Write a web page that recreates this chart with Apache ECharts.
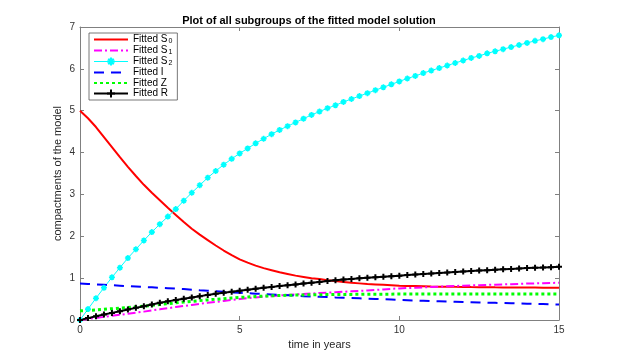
<!DOCTYPE html>
<html>
<head>
<meta charset="utf-8">
<script src="https://cdn.jsdelivr.net/npm/echarts@6/dist/echarts.min.js"></script>
<style>
  body { margin: 0; background: #fff; }
  #main { width: 618px; height: 360px; }
</style>
</head>
<body>
<div id="main"></div>
<script type="text/javascript">
// time points (years)
var years = [0,0.25,0.5,0.75,1,1.25,1.5,1.75,2,2.25,2.5,2.75,3,3.25,3.5,3.75,4,4.25,4.5,4.75,
  5,5.25,5.5,5.75,6,6.25,6.5,6.75,7,7.25,7.5,7.75,8,8.25,8.5,8.75,9,9.25,9.5,9.75,
  10,10.25,10.5,10.75,11,11.25,11.5,11.75,12,12.25,12.5,12.75,13,13.25,13.5,13.75,14,14.25,14.5,14.75,15];

// fitted S0
var s0 = [5.00,4.82,4.61,4.37,4.13,3.89,3.66,3.44,3.23,3.04,2.86,2.68,2.51,2.34,2.18,2.04,1.91,1.78,1.66,1.55,
  1.45,1.37,1.30,1.24,1.19,1.14,1.10,1.06,1.03,1.00,0.98,0.95,0.93,0.91,0.89,0.875,0.86,0.85,0.84,0.83,
  0.82,0.815,0.81,0.805,0.80,0.797,0.795,0.792,0.79,0.787,0.785,0.782,0.78,0.779,0.777,0.776,0.775,0.774,0.772,0.771,0.77];
// fitted S1
var s1 = [0,0.025,0.05,0.075,0.10,0.125,0.15,0.175,0.20,0.23,0.255,0.28,0.31,0.335,0.36,0.385,0.41,0.43,0.455,0.48,
  0.50,0.52,0.54,0.555,0.57,0.585,0.60,0.61,0.62,0.633,0.645,0.655,0.665,0.675,0.685,0.695,0.705,0.718,0.73,0.745,
  0.755,0.763,0.77,0.78,0.79,0.797,0.805,0.812,0.82,0.826,0.832,0.838,0.845,0.851,0.857,0.863,0.87,0.875,0.88,0.885,0.89];
// fitted S2
var s2 = [0,0.26,0.52,0.77,1.02,1.25,1.48,1.69,1.90,2.10,2.29,2.47,2.65,2.85,3.04,3.22,3.40,3.56,3.71,3.85,
  3.98,4.10,4.22,4.33,4.44,4.54,4.63,4.72,4.81,4.90,4.98,5.06,5.13,5.21,5.28,5.35,5.42,5.49,5.56,5.63,
  5.70,5.77,5.83,5.90,5.96,6.02,6.08,6.14,6.20,6.26,6.31,6.37,6.42,6.47,6.52,6.57,6.62,6.67,6.71,6.76,6.80];
// fitted I
var infI = [0.87,0.86,0.85,0.84,0.83,0.82,0.81,0.80,0.79,0.78,0.77,0.76,0.75,0.74,0.725,0.71,0.70,0.69,0.675,0.66,
  0.65,0.64,0.63,0.62,0.61,0.60,0.59,0.58,0.57,0.563,0.555,0.548,0.54,0.533,0.525,0.518,0.51,0.503,0.495,0.488,
  0.48,0.473,0.465,0.458,0.45,0.445,0.44,0.435,0.43,0.425,0.42,0.415,0.41,0.405,0.40,0.395,0.39,0.385,0.38,0.375,0.37];
// fitted Z
var zZ = [0.22,0.23,0.24,0.255,0.27,0.285,0.30,0.315,0.33,0.35,0.37,0.39,0.41,0.43,0.445,0.463,0.48,0.495,0.51,0.525,
  0.54,0.55,0.56,0.57,0.58,0.585,0.59,0.595,0.60,0.603,0.605,0.608,0.61,0.611,0.612,0.614,0.615,0.616,0.617,0.618,
  0.62,0.62,0.62,0.62,0.62,0.62,0.62,0.62,0.62,0.62,0.62,0.62,0.62,0.62,0.62,0.62,0.62,0.62,0.62,0.62,0.62];
// fitted R
var rR = [0,0.045,0.09,0.13,0.17,0.21,0.25,0.29,0.33,0.37,0.41,0.445,0.48,0.51,0.54,0.57,0.60,0.625,0.65,0.675,
  0.70,0.72,0.745,0.77,0.79,0.81,0.83,0.85,0.87,0.89,0.91,0.93,0.95,0.965,0.98,0.995,1.01,1.023,1.035,1.048,
  1.06,1.073,1.085,1.098,1.11,1.123,1.135,1.148,1.16,1.17,1.18,1.19,1.20,1.21,1.22,1.23,1.24,1.248,1.255,1.263,1.27];

var seriesNames = ['Fitted S0','Fitted S1','Fitted S2','Fitted I','Fitted Z','Fitted R'];
var withMarker = [false, false, true, false, false, true];
var xTicks = [0, 15, 5];   // min, max, step
var yTicks = [0, 7, 1];

function pairs(vals){
    var out = [];
    for (var i = 0; i < years.length; i++) out.push([years[i], vals[i]]);
    return out;
}

var font = 'Liberation Sans, Arial, Helvetica, sans-serif';
var asterisk = 'path://M5,0L5,10M0,5L10,5M1.6,1.6L8.4,8.4M8.4,1.6L1.6,8.4';
var plus = 'path://M5,0L5,10M0,5L10,5';

var myChart = echarts.init(document.getElementById('main'));

function axisBase(pos, showLabel, ticks){
    return {
        type: 'value', position: pos,
        min: ticks[0], max: ticks[1], interval: ticks[2],
        axisLine: { show: true, onZero: false, lineStyle: { color: '#808080', width: 1 } },
        axisTick: { show: true, inside: true, length: 4, lineStyle: { color: '#808080' } },
        axisLabel: { show: showLabel, color: '#333', fontSize: 10, fontFamily: font, margin: 5 },
        splitLine: { show: false }
    };
}

var xBottom = axisBase('bottom', true, xTicks);
xBottom.name = 'time in years';
xBottom.nameLocation = 'middle';
xBottom.nameGap = 19;
xBottom.nameMoveOverlap = false;
xBottom.nameTextStyle = { color: '#262626', fontSize: 11, fontFamily: font };
var yLeft = axisBase('left', true, yTicks);
yLeft.name = 'compactments of the model';
yLeft.nameLocation = 'middle';
yLeft.nameGap = 17;
yLeft.nameMoveOverlap = false;
yLeft.nameTextStyle = { color: '#262626', fontSize: 11, fontFamily: font };

// legend entries: hide the default marker for the plain lines, thin line for S2
var legendData = seriesNames.map(function(n, i){
    if (!withMarker[i]) return { name: n, itemStyle: { opacity: 0 } };
    if (i === 2) return { name: n, lineStyle: { width: 1 } };
    return { name: n };
});

var option = {
    animation: false,
    backgroundColor: '#fff',
    title: {
        text: 'Plot of all subgroups of the fitted model solution',
        left: 'center', top: 10,
        textStyle: { fontSize: 11, fontWeight: 'bold', color: '#000', fontFamily: font }
    },
    grid: { left: 80, right: 59, top: 27, bottom: 40 },
    legend: {
        orient: 'vertical', left: 89, top: 33,
        data: legendData,
        itemWidth: 34, itemHeight: 10, itemGap: 0.5,
        padding: [1.5, 5, 1.5, 4],
        backgroundColor: '#fff', borderColor: '#555', borderWidth: 0.8, borderRadius: 0,
        formatter: function(name){
            var m = name.match(/^(Fitted S)(\d)$/);
            if (m) return '{t|' + m[1] + '}{s|' + m[2] + '}';
            return '{t|' + name + '}';
        },
        textStyle: {
            fontFamily: font, color: '#000',
            rich: {
                t: { fontSize: 10, lineHeight: 11, fontFamily: font, color: '#000' },
                s: { fontSize: 7, lineHeight: 5, verticalAlign: 'bottom', padding: [0, 0, 0, 1], fontFamily: font, color: '#000' }
            }
        }
    },
    xAxis: [xBottom, axisBase('top', false, xTicks)],
    yAxis: [yLeft, axisBase('right', false, yTicks)],
    series: [
        { name: seriesNames[0], type: 'line', data: pairs(s0), showSymbol: false, symbol: 'none',
          lineStyle: { color: '#ff0000', width: 2 }, itemStyle: { color: '#ff0000' } },
        { name: seriesNames[1], type: 'line', data: pairs(s1), showSymbol: false, symbol: 'none',
          lineStyle: { color: '#ff00ff', width: 2, type: [8, 3, 2, 3] }, itemStyle: { color: '#ff00ff' } },
        { name: seriesNames[2], type: 'line', data: pairs(s2), symbol: asterisk, symbolSize: 6, showSymbol: true,
          lineStyle: { color: '#00ffff', width: 1 },
          itemStyle: { color: '#00ffff', borderColor: '#00ffff', borderWidth: 1.6 } },
        { name: seriesNames[3], type: 'line', data: pairs(infI), showSymbol: false, symbol: 'none',
          lineStyle: { color: '#0000ff', width: 2, type: [10, 7] }, itemStyle: { color: '#0000ff' } },
        { name: seriesNames[4], type: 'line', data: pairs(zZ), showSymbol: false, symbol: 'none',
          lineStyle: { color: '#00ff00', width: 3, type: [3, 3] }, itemStyle: { color: '#00ff00' } },
        { name: seriesNames[5], type: 'line', data: pairs(rR), symbol: plus, symbolSize: 6, showSymbol: true,
          lineStyle: { color: '#000', width: 2 },
          itemStyle: { color: '#000', borderColor: '#000', borderWidth: 2 } }
    ]
};

myChart.setOption(option);
</script>
</body>
</html>
